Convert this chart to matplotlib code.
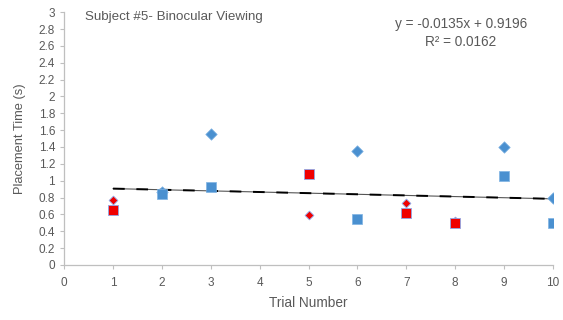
import numpy as np
import matplotlib.pyplot as plt

plt.rcParams['font.family'] = ['Liberation Sans', 'DejaVu Sans']

# trial numbers and placement times (s)
blue_diamond_x = [2, 3, 6, 9, 10]
blue_diamond_y = [0.86, 1.55, 1.35, 1.40, 0.79]
blue_square_x = [2, 3, 6, 9, 10]
blue_square_y = [0.84, 0.93, 0.55, 1.06, 0.50]
red_diamond_x = [1, 5, 7, 8]
red_diamond_y = [0.77, 0.59, 0.74, 0.52]
red_square_x = [1, 5, 7, 8]
red_square_y = [0.65, 1.08, 0.62, 0.50]

slope = -0.0135
intercept = 0.9196
r2 = 0.0162

blue = '#4a90d0'
red = '#f00000'
grey = '#595959'

fig = plt.figure(figsize=(5.63, 3.2), dpi=100)
ax = fig.add_axes([0.114, 0.172, 0.868, 0.79])

# trend line: thin solid plus long dashes on top
tx = np.array([1, 10])
ax.plot(tx, slope * tx + intercept, color='#555555', lw=0.8, zorder=2)
ax.plot(tx, slope * tx + intercept, color='black', lw=1.4,
        dashes=(6, 6), zorder=2)

ax.scatter(blue_diamond_x, blue_diamond_y, marker='D', s=34, color=blue,
           edgecolors='#7fb3e3', linewidths=0.5, zorder=3)
ax.scatter(blue_square_x, blue_square_y, marker='s', s=60, color=blue,
           edgecolors='#7fb3e3', linewidths=0.5, zorder=3)
ax.scatter(red_diamond_x, red_diamond_y, marker='D', s=20, color=red,
           edgecolors='#8fa8e8', linewidths=0.6, zorder=4)
ax.scatter(red_square_x, red_square_y, marker='s', s=55, color=red,
           edgecolors='#8fa8e8', linewidths=0.6, zorder=4)

ax.set_xlim(0, 10)
ax.set_ylim(0, 3)
ax.set_xticks(range(0, 11))
yt = np.arange(0, 3.01, 0.2)
ax.set_yticks(yt)
ax.set_yticklabels(['{0:g}'.format(round(v, 1)) for v in yt])

for s in ['top', 'right']:
    ax.spines[s].set_visible(False)
for s in ['left', 'bottom']:
    ax.spines[s].set_color('#bfbfbf')
    ax.spines[s].set_linewidth(0.9)
ax.tick_params(colors='#bfbfbf', labelcolor=grey, labelsize=8.5,
               length=3, width=0.8)
ax.tick_params(axis='x', pad=6)

ax.set_xlabel('Trial Number', color=grey, fontsize=9.8, labelpad=5)
ax.set_ylabel('Placement Time (s)', color=grey, fontsize=9.3, labelpad=9)

ax.text(0.042, 0.980, 'Subject #5- Binocular Viewing', transform=ax.transAxes,
        color=grey, fontsize=9.6, va='center', ha='left')
ax.text(0.812, 0.955, 'y = -0.0135x + 0.9196', transform=ax.transAxes,
        color=grey, fontsize=9.8, va='center', ha='center')
ax.text(0.812, 0.880, 'R² = {0}'.format(r2), transform=ax.transAxes,
        color=grey, fontsize=9.8, va='center', ha='center')

fig.savefig('out.png', dpi=100)
